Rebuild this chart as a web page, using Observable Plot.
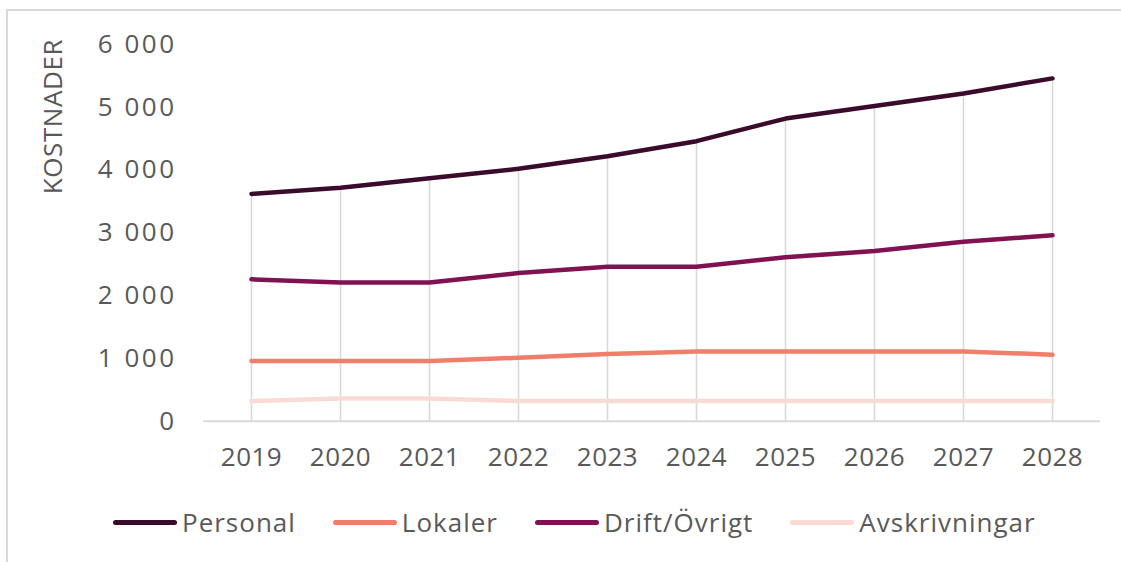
<!DOCTYPE html>
<html>
<head>
<meta charset="utf-8">
<script src="https://cdn.jsdelivr.net/npm/d3@7"></script>
<script src="https://cdn.jsdelivr.net/npm/@observablehq/plot@0.6"></script>
<style>
  html, body { margin: 0; padding: 0; background: #fff; }
  body { width: 1121px; height: 562px; position: relative; overflow: hidden; font-family: "Open Sans", sans-serif; }
  #frame { position: absolute; left: 6px; top: 9px; width: 1300px; height: 700px; border-left: 2.5px solid #d9d9d9; border-top: 2.5px solid #d9d9d9; box-sizing: border-box; }
  #chart { position: absolute; left: 0; top: 0; }
  #chart g[aria-label="y-axis tick label"] text { letter-spacing: 2.5px; }
  #chart g[aria-label="x-axis tick label"] text { letter-spacing: 0.5px; }
  #chart g[aria-label="text"] text { letter-spacing: 0.6px; }
  #legend { position: absolute; left: 113px; top: 504px; display: flex; align-items: center; font-size: 26px; color: #595959; letter-spacing: 1px; }
  .item { display: flex; align-items: center; margin-right: 37px; }
  .sw { width: 64px; height: 5px; border-radius: 3px; margin-right: 5px; }
</style>
</head>
<body>
<div id="frame"></div>
<div id="chart"></div>
<div id="legend"></div>
<script>
const years = [2019, 2020, 2021, 2022, 2023, 2024, 2025, 2026, 2027, 2028];
const personal = [3620, 3720, 3870, 4020, 4220, 4460, 4820, 5020, 5220, 5460];
const lokaler = [960, 960, 960, 1010, 1070, 1110, 1110, 1110, 1110, 1060];
const drift = [2260, 2210, 2210, 2360, 2460, 2460, 2610, 2710, 2860, 2960];
const avskrivningar = [320, 360, 360, 320, 320, 320, 320, 320, 320, 320];
const seriesNames = ["Personal", "Lokaler", "Drift/Övrigt", "Avskrivningar"];
const seriesColors = ["#3b0b2b", "#ef7f6b", "#801252", "#fadbd4"];
const yTicks = [0, 1000, 2000, 3000, 4000, 5000, 6000];
const yTitle = "KOSTNADER";

const seriesValues = [personal, lokaler, drift, avskrivningar];
const rows = [];
seriesNames.forEach((s, si) => {
  years.forEach((yr, i) => rows.push({series: s, year: yr, value: seriesValues[si][i]}));
});
const drops = years.map((yr, i) => ({year: yr, top: Math.max(personal[i], lokaler[i], drift[i], avskrivningar[i])}));

const fmt = d => d3.format(",")(d).replace(/,/g, "\u00a0");

const chart = Plot.plot({
  width: 1121,
  height: 480,
  marginLeft: 203,
  marginRight: 21,
  marginTop: 44,
  marginBottom: 59.3,
  style: {fontFamily: "'Open Sans', sans-serif", fontSize: "26px", color: "#595959", background: "transparent", overflow: "visible"},
  x: {type: "point", domain: years, padding: 0.5, label: null},
  y: {domain: [0, 6000], label: null},
  color: {domain: seriesNames, range: seriesColors},
  marks: [
    Plot.ruleX(drops, {x: "year", y1: 0, y2: "top", stroke: "#d9d9d9", strokeWidth: 1.6}),
    Plot.ruleY([0], {stroke: "#d9d9d9", strokeWidth: 2}),
    Plot.axisY({ticks: yTicks, tickSize: 0, tickPadding: 27, tickFormat: fmt, label: null, fill: "#595959"}),
    Plot.axisX({tickSize: 0, tickPadding: 26, tickFormat: d => String(d), label: null, fill: "#595959"}),
    Plot.text([yTitle], {text: d => d, frameAnchor: "top-left", dx: -150, dy: 72, rotate: -90, textAnchor: "middle", lineAnchor: "middle", fill: "#595959", fontSize: 26}),
    Plot.line(rows, {x: "year", y: "value", z: "series", stroke: "series", strokeWidth: 4.5, strokeLinecap: "round", strokeLinejoin: "round"})
  ]
});
document.getElementById("chart").appendChild(chart);

const legend = document.getElementById("legend");
seriesNames.forEach((s, i) => {
  const item = document.createElement("div");
  item.className = "item";
  const sw = document.createElement("span");
  sw.className = "sw";
  sw.style.background = seriesColors[i];
  const t = document.createElement("span");
  t.textContent = s;
  item.appendChild(sw);
  item.appendChild(t);
  legend.appendChild(item);
});
</script>
</body>
</html>
